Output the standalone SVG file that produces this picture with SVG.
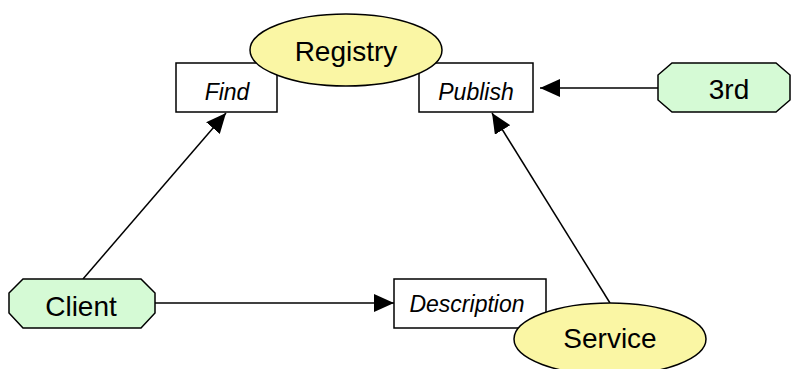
<svg xmlns="http://www.w3.org/2000/svg" width="791" height="369" viewBox="0 0 791 369">
<style>
.box{fill:#fff;stroke:#000;stroke-width:1.5}
.ell{fill:#FAF6A4;stroke:#000;stroke-width:1.5}
.oct{fill:#D5FAD5;stroke:#000;stroke-width:1.5}
.big{font-family:"Liberation Sans",Arial,sans-serif;font-size:28px;text-anchor:middle;fill:#000}
.lbl{font-family:"Liberation Sans",Arial,sans-serif;font-size:23px;font-style:italic;text-anchor:middle;fill:#000}
.con{stroke:#000;stroke-width:1.5;fill:none;marker-end:url(#ah)}
</style>
<defs>
<marker id="ah" markerUnits="userSpaceOnUse" markerWidth="20" markerHeight="18" refX="20" refY="9" orient="auto">
<path d="M0,0 L20,9 L0,18 Z" fill="#000"/>
</marker>
</defs>
<rect width="791" height="369" fill="#fff"/>
<g id="connectors">
<line class="con" x1="83" y1="279" x2="226" y2="113"/>
<line class="con" x1="610" y1="303" x2="492" y2="113"/>
<line class="con" x1="658" y1="88" x2="540" y2="88"/>
<line class="con" x1="155" y1="303" x2="394" y2="303"/>
</g>
<g id="find">
<rect class="box" x="176" y="63" width="101" height="49"/>
<text class="lbl" x="227" y="100">Find</text>
</g>
<g id="publish">
<rect class="box" x="419" y="63" width="114" height="49"/>
<text class="lbl" x="476" y="100">Publish</text>
</g>
<g id="registry">
<ellipse class="ell" cx="346" cy="50" rx="96" ry="36"/>
<text class="big" x="346" y="61">Registry</text>
</g>
<g id="third">
<polygon class="oct" points="672,63 776,63 790,75 790,100 776,112 672,112 658,100 658,75"/>
<text class="big" x="729" y="99">3rd</text>
</g>
<g id="client">
<polygon class="oct" points="23,279 141,279 155,293 155,313 141,328 23,328 9,313 9,293"/>
<text class="big" x="81" y="316">Client</text>
</g>
<g id="description">
<rect class="box" x="394" y="279" width="152" height="49"/>
<text class="lbl" x="467" y="312">Description</text>
</g>
<g id="service">
<ellipse class="ell" cx="610" cy="339" rx="96" ry="36"/>
<text class="big" x="610" y="348">Service</text>
</g>
</svg>
